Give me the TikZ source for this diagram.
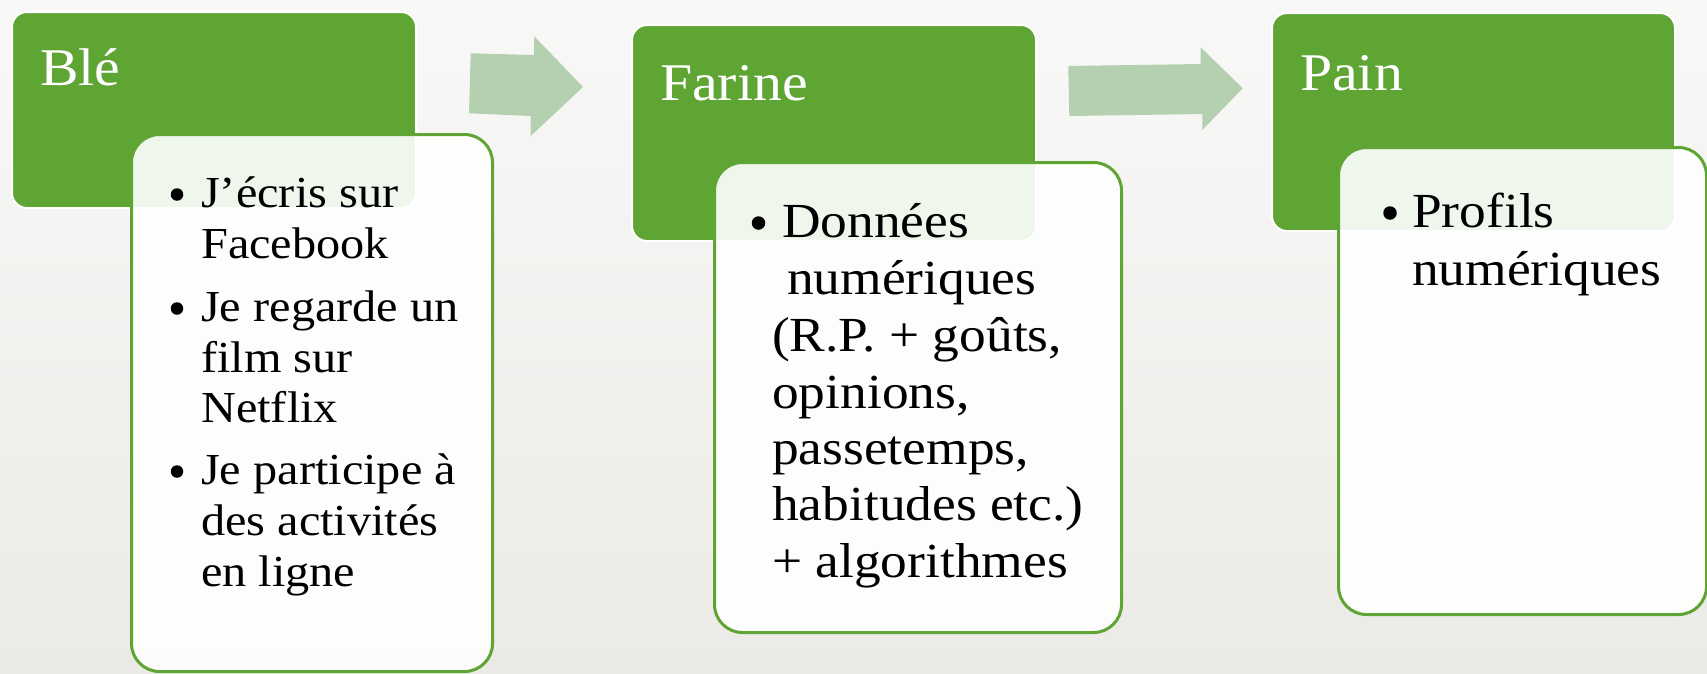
\documentclass[tikz,border=0pt]{standalone}
\usepackage{fontspec}
\setmainfont{Liberation Serif}[FakeStretch=1.09]
\definecolor{grn}{RGB}{94,165,52}
\definecolor{arrowgrn}{RGB}{181,208,176}
\definecolor{bgtop}{RGB}{248,248,247}
\definecolor{bgbot}{RGB}{235,234,230}
\tikzset{
  topbox/.style={rectangle, anchor=north west, fill=grn, draw=white, line width=2pt, rounded corners=15pt, inner sep=0},
  listbox/.style={rectangle, anchor=north west, fill=white, fill opacity=0.9, draw=grn, draw opacity=1, line width=3pt, rounded corners=28pt, inner sep=0},
  head/.style={anchor=base west, inner sep=0, text=white, font=\fontsize{53}{63}\selectfont},
  lineA/.style={anchor=base west, inner sep=0, text=black, font=\fontsize{44.3}{53}\selectfont},
  lineB/.style={anchor=base west, inner sep=0, text=black, font=\fontsize{49}{58}\selectfont},
  bulA/.style={circle, fill=black, inner sep=0, minimum size=12.5pt},
  bulB/.style={circle, fill=black, inner sep=0, minimum size=13.5pt},
  blockarrow/.style={fill=arrowgrn, draw=none},
}
\begin{document}
\begin{tikzpicture}[x=1pt,y=-1pt]
\useasboundingbox (0,0) rectangle (1707,673);
\clip (0,0) rectangle (1707,673);
\shade[top color=bgtop, bottom color=bgbot] (0,0) rectangle (1707,673);

% arrows
\fill[blockarrow] (470.7,53.3) -- (534,55) -- (534,36) -- (583,87) -- (530.7,136) -- (530.7,116) -- (469,113.3) -- cycle;
\fill[blockarrow] (1068.3,66) -- (1200.7,64) -- (1200.7,47.3) -- (1242.7,88.3) -- (1202.3,130) -- (1202.3,114) -- (1069.3,116) -- cycle;

% green header boxes
\node[topbox, minimum width=404pt, minimum height=196pt] (g1) at (11,11) {};
\node[topbox, minimum width=404pt, minimum height=216pt] (g2) at (631,24) {};
\node[topbox, minimum width=403pt, minimum height=218pt] (g3) at (1271,12) {};

\node[head] (h1) at (40,85) {Blé};
\node[head] (h2) at (660,100) {Farine};
\node[head] (h3) at (1300,90) {Pain};

% white list boxes
\node[listbox, minimum width=361pt, minimum height=537pt] (w1) at (130,133) {};
\node[listbox, minimum width=407pt, minimum height=470pt] (w2) at (713,161) {};
\node[listbox, minimum width=368pt, minimum height=467pt] (w3) at (1337,146) {};

% list 1
\node[bulA] (b1a) at (177,194.5) {};
\node[lineA] (l1a) at (201,207) {J’écris sur};
\node[lineA] (l1b) at (201,258) {Facebook};
\node[bulA] (b1b) at (177,308.5) {};
\node[lineA] (l1c) at (201,321) {Je regarde un};
\node[lineA] (l1d) at (201,372) {film sur};
\node[lineA] (l1e) at (201,422) {Netflix};
\node[bulA] (b1c) at (177,471.5) {};
\node[lineA] (l1f) at (201,484) {Je participe à};
\node[lineA] (l1g) at (201,535) {des activités};
\node[lineA] (l1h) at (201,586) {en ligne};

% list 2
\node[bulB] (b2a) at (758.5,223) {};
\node[lineB] (l2a) at (782,237) {Données};
\node[lineB] (l2b) at (787,294) {numériques};
\node[lineB] (l2c) at (772,351) {(R.P. + goûts,};
\node[lineB] (l2d) at (772,408) {opinions,};
\node[lineB] (l2e) at (772,464) {passetemps,};
\node[lineB] (l2f) at (772,520) {habitudes etc.)};
\node[lineB] (l2g) at (772,577) {+ algorithmes};

% list 3
\node[bulB] (b3a) at (1390,213) {};
\node[lineB] (l3a) at (1412,227) {Profils};
\node[lineB] (l3b) at (1412,285) {numériques};
\end{tikzpicture}
\end{document}
